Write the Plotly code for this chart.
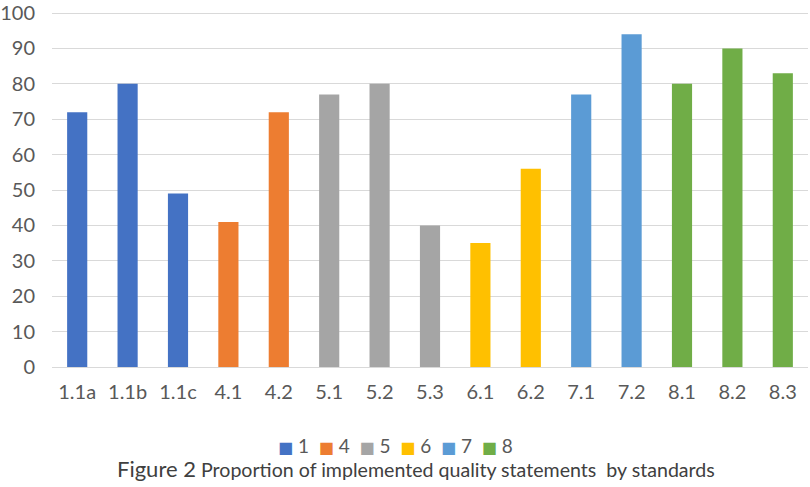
import plotly.graph_objects as go

# standards -> statement labels and % implemented
standards = ["1", "4", "5", "6", "7", "8"]
statements = [
    ["1.1a", "1.1b", "1.1c"],
    ["4.1", "4.2"],
    ["5.1", "5.2", "5.3"],
    ["6.1", "6.2"],
    ["7.1", "7.2"],
    ["8.1", "8.2", "8.3"],
]
values = [
    [72, 80, 49],
    [41, 72],
    [77, 80, 40],
    [35, 56],
    [77, 94],
    [80, 90, 83],
]
all_cats = [s for grp in statements for s in grp]

COLORS = ["#4472C4", "#ED7D31", "#A5A5A5", "#FFC000", "#5B9BD5", "#70AD47"]
FONT = "Lato"
TXT = "#595959"
W, H = 810, 487
ML, MR, MT, MB = 52, 2, 12, 120
plot_h = H - MT - MB

fig = go.Figure()
for name, cats, vals, col in zip(standards, statements, values, COLORS):
    fig.add_trace(go.Bar(x=cats, y=vals, name=name, marker=dict(color=col, line=dict(width=0)),
                         width=0.4))

fig.update_layout(
    width=W, height=H,
    paper_bgcolor="white", plot_bgcolor="white",
    margin=dict(l=ML, r=MR, t=MT, b=MB, autoexpand=False),
    barmode="overlay",
    font=dict(family=FONT, color=TXT, size=18),
    showlegend=False,
    xaxis=dict(categoryorder="array", categoryarray=all_cats, showgrid=False,
               showline=False, ticks="", automargin=False, ticklabelstandoff=11,
               tickfont=dict(size=20, color=TXT)),
    yaxis=dict(range=[0, 100.3], tickvals=list(range(0, 101, 10)), gridcolor="#D9D9D9",
               gridwidth=1.3, zeroline=True, zerolinecolor="#D9D9D9", zerolinewidth=1.3,
               showline=False, ticks="", ticklabelstandoff=16, automargin=False,
               ticklabeloverflow="allow", tickfont=dict(size=20, color=TXT)),
)

# compact office-style legend in one line: small square + label
gap = "&nbsp;&nbsp;"
legend_txt = gap.join(
    f"<span style='color:{col};font-size:16px;font-family:DejaVu Sans'>■</span> {name}"
    for name, col in zip(standards, COLORS)
)
fig.add_annotation(
    xref="paper", yref="paper", x=0.454, y=-(78 / plot_h),
    xanchor="center", yanchor="middle", showarrow=False,
    text=legend_txt, font=dict(size=19, color=TXT, family=FONT),
)

fig.add_annotation(
    xref="paper", yref="paper", x=0.482, y=-(101 / plot_h), xanchor="center", yanchor="middle",
    showarrow=False,
    text="<span style='font-size:22px'>Figure 2</span> Proportion of implemented quality statements&nbsp; by standards",
    font=dict(size=19.6, color="#404040", family="Lato"),
)

# drop the browser's default 8px body margin so the figure sits at 0,0
fig.write_html("out.html", config={"displayModeBar": False},
               post_script="document.body.style.margin='0';")
